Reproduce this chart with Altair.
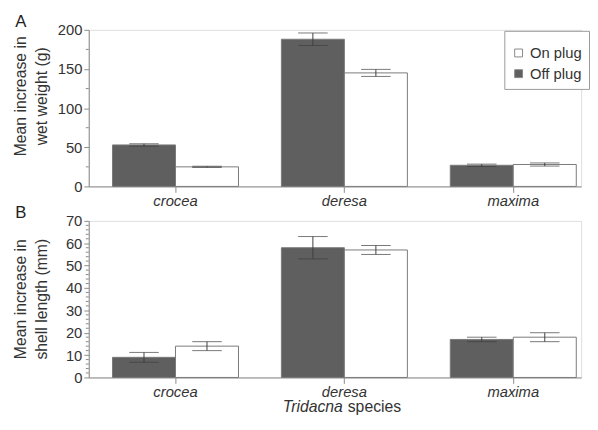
import altair as alt
import pandas as pd

species = ["crocea", "deresa", "maxima"]
treatments = ["Off plug", "On plug"]
legend_order = ["On plug", "Off plug"]

wet_off = [53, 188, 27]
wet_off_err = [1.5, 8, 1.5]
wet_on = [25, 145, 28]
wet_on_err = [0.8, 4.5, 2]

shell_off = [9, 58, 17]
shell_off_err = [2.2, 5, 1]
shell_on = [14, 57, 18]
shell_on_err = [2, 2, 2]

wet_major = [0, 50, 100, 150, 200]
wet_minor = [25, 75, 125, 175]
shell_major = [0, 10, 20, 30, 40, 50, 60, 70]
shell_minor = [v for v in range(2, 70, 2) if v % 10 != 0]

wet_title = ["Mean increase in", "wet weight (g)"]
shell_title = ["Mean increase in", "shell length (mm)"]


def frame(off, off_err, on, on_err):
    rows = []
    for i, s in enumerate(species):
        rows.append(dict(species=s, treatment="Off plug", value=off[i], lo=off[i] - off_err[i], hi=off[i] + off_err[i]))
        rows.append(dict(species=s, treatment="On plug", value=on[i], lo=on[i] - on_err[i], hi=on[i] + on_err[i]))
    return pd.DataFrame(rows)


wet_df = frame(wet_off, wet_off_err, wet_on, wet_on_err)
shell_df = frame(shell_off, shell_off_err, shell_on, shell_on_err)

AX = "#8a8a8a"
TXT = "#333333"
FONT = "Liberation Sans"

x_enc = alt.X(
    "species:N",
    sort=species,
    scale=alt.Scale(paddingInner=0.254, paddingOuter=0.0847, align=0.83),
    axis=alt.Axis(
        title=None, labelAngle=0, labelFontStyle="italic", labelFontSize=15,
        labelColor=TXT, labelFont=FONT, tickSize=6, labelPadding=1,
        domainColor=AX, tickColor=AX, grid=False,
    ),
)
xoff_enc = alt.XOffset("treatment:N", sort=treatments, scale=alt.Scale(domain=treatments, paddingInner=0, paddingOuter=0))


def text_layer(txt, x, y, angle=0, italic=False, align="center", baseline="middle", size=16, color=TXT):
    return alt.Chart(pd.DataFrame({"t": [txt]})).mark_text(
        align=align, baseline=baseline, fontSize=size, font=FONT,
        fontStyle="italic" if italic else "normal", color=color, angle=angle,
    ).encode(text="t:N", x=alt.value(x), y=alt.value(y))


def panel(df, major, minor, maxv, title_lines, letter, show_legend, title_y, height):
    y_axis = alt.Axis(
        values=major, title=None, labelOverlap=False,
        labelFontSize=15, labelFont=FONT, labelColor=TXT, labelPadding=2,
        tickSize=5, domainColor=AX, tickColor=AX, grid=False,
    )
    y_scale = alt.Scale(domain=[0, maxv], nice=False)
    fill_legend = None
    if show_legend:
        fill_legend = alt.Legend(
            title=" ", titleFontSize=6, titlePadding=2,
            orient="none", legendX=422, legendY=1,
            labelFontSize=15, labelFont=FONT, labelColor=TXT,
            symbolType="square", symbolSize=64, symbolStrokeColor="#888",
            symbolStrokeWidth=1, strokeColor="#999", padding=7, rowPadding=5,
            labelOffset=4, fillColor="white",
        )
    base = alt.Chart(df)
    bars = base.mark_bar(stroke="#7a7a7a", strokeWidth=1).encode(
        x=x_enc,
        xOffset=xoff_enc,
        y=alt.Y("value:Q", scale=y_scale, axis=y_axis),
        fill=alt.Fill(
            "treatment:N",
            scale=alt.Scale(domain=legend_order, range=["#ffffff", "#5f5f5f"]),
            legend=fill_legend,
        ),
    )
    whisk = base.mark_rule(color="#3f3f3f", strokeWidth=1).encode(
        x=x_enc, xOffset=xoff_enc, y=alt.Y("lo:Q", scale=y_scale, axis=y_axis), y2="hi:Q"
    )
    cap_hi = base.mark_tick(color="#3f3f3f", thickness=1, size=30, orient="horizontal").encode(
        x=x_enc, xOffset=xoff_enc, y=alt.Y("hi:Q", scale=y_scale, axis=y_axis)
    )
    cap_lo = base.mark_tick(color="#3f3f3f", thickness=1, size=30, orient="horizontal").encode(
        x=x_enc, xOffset=xoff_enc, y=alt.Y("lo:Q", scale=y_scale, axis=y_axis)
    )
    minor_ticks = alt.Chart(pd.DataFrame({"value": minor})).mark_rule(color=AX).encode(
        y=alt.Y("value:Q", scale=y_scale, axis=y_axis), x=alt.value(-3), x2=alt.value(0)
    )
    t1 = text_layer(title_lines[0], -68.5, title_y, angle=270)
    t2 = text_layer(title_lines[1], -47.5, title_y, angle=270)
    lt = text_layer(letter, -69, -16, baseline="top", size=17, color="#222")
    layers = [bars, whisk, cap_hi, cap_lo, minor_ticks, t1, t2, lt]
    return alt.layer(*layers).properties(width=500, height=height)


top = panel(wet_df, wet_major, wet_minor, 200, wet_title, "A", True, 67.5, 159)
bottom = panel(shell_df, shell_major, shell_minor, 70, shell_title, "B", False, 79.5, 159)

lab1 = text_layer("Tridacna", 258, 194, italic=True, align="right", baseline="alphabetic")
lab2 = text_layer("species", 263, 194, align="left", baseline="alphabetic")

bottom = alt.layer(bottom, lab1, lab2)

chart = alt.vconcat(top, bottom, spacing=35, bounds="flush").resolve_legend(fill="independent").properties(
    autosize=alt.AutoSizeParams(type="pad"),
    padding={"left": 5, "top": 1, "right": 0, "bottom": 0},
).configure_view(stroke=None).configure(background="white")

chart.save("out.html", embed_options={"renderer": "svg", "actions": False})
